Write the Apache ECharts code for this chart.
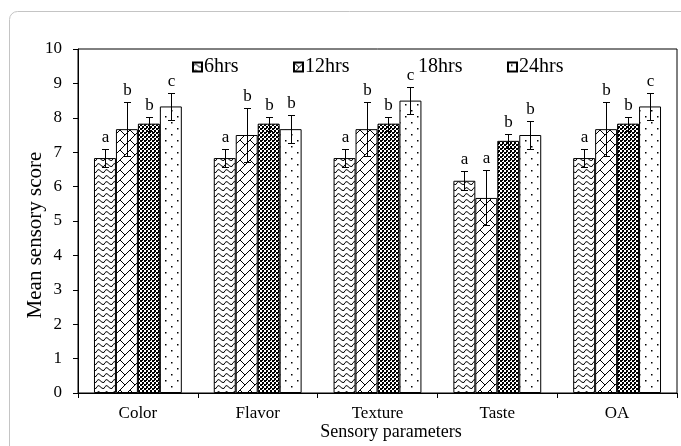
<!DOCTYPE html>
<html>
<head>
<meta charset="utf-8">
<script src="https://cdn.jsdelivr.net/npm/echarts@6/dist/echarts.min.js"></script>
<style>
html,body{margin:0;padding:0;background:#fff;}
#chart{width:681px;height:446px;}
</style>
</head>
<body>
<div id="chart"></div>
<script>
// ---- data ----
const categories = ['Color', 'Flavor', 'Texture', 'Taste', 'OA'];
const seriesNames = ['6hrs', '12hrs', '18hrs', '24hrs'];
const hrs6  = [6.83, 6.83, 6.83, 6.17, 6.83];
const hrs12 = [7.67, 7.50, 7.67, 5.67, 7.67];
const hrs18 = [7.83, 7.83, 7.83, 7.33, 7.83];
const hrs24 = [8.33, 7.67, 8.50, 7.50, 8.33];
const err6  = [0.27, 0.27, 0.27, 0.27, 0.27];
const err12 = [0.78, 0.78, 0.78, 0.80, 0.78];
const err18 = [0.20, 0.20, 0.20, 0.20, 0.20];
const err24 = [0.40, 0.40, 0.40, 0.40, 0.40];
const let6  = ['a', 'a', 'a', 'a', 'a'];
const let12 = ['b', 'b', 'b', 'a', 'b'];
const let18 = ['b', 'b', 'b', 'b', 'b'];
const let24 = ['c', 'b', 'c', 'b', 'c'];
const yTicks = [0, 10, 1];

const values = [hrs6, hrs12, hrs18, hrs24];
const errors = [err6, err12, err18, err24];
const letters = [let6, let12, let18, let24];

// ---- patterns ----
function tile(w, h, draw) {
  const c = document.createElement('canvas');
  c.width = w; c.height = h;
  const g = c.getContext('2d');
  g.fillStyle = '#fff'; g.fillRect(0, 0, w, h);
  draw(g, w, h);
  return { image: c, repeat: 'repeat' };
}
const patWave = tile(8, 6, (g) => {
  g.strokeStyle = '#000'; g.lineWidth = 1;
  g.beginPath();
  g.moveTo(0, 4.5);
  g.quadraticCurveTo(2, 0, 4, 2.5);
  g.quadraticCurveTo(6, 5, 8, 4.5);
  g.stroke();
});
const patBrick = tile(20, 20, (g) => {
  g.strokeStyle = '#000'; g.lineWidth = 1;
  const s = 10, L = 20;
  for (let k = -6; k <= 8; k++) {
    const u = s * k;
    g.beginPath();
    g.moveTo(u + 40, -40); g.lineTo(u - 40, 40);
    g.stroke();
    for (let m = -4; m <= 4; m++) {
      const v = L * m + ((k % 2 + 2) % 2 ? L / 2 : 0);
      const x1 = (u + v) / 2, y1 = (u - v) / 2;
      const x2 = (u + s + v) / 2, y2 = (u + s - v) / 2;
      g.beginPath(); g.moveTo(x1, y1); g.lineTo(x2, y2); g.stroke();
    }
  }
});
const patCheck = tile(4, 4, (g) => {
  g.fillStyle = '#000';
  g.fillRect(0, 0, 2, 2);
  g.fillRect(2, 2, 2, 2);
  g.fillRect(2, 0, 1, 1);
});
const patDots = tile(12, 12, (g) => {
  g.fillStyle = '#000';
  g.fillRect(3, 2, 1.5, 1.5);
  g.fillRect(9, 8, 1.5, 1.5);
});
const patterns = [patWave, patBrick, patCheck, patDots];

const gapFrac = 0.2667;
const FONT = '"Liberation Serif", "Times New Roman", serif';

const barSeries = seriesNames.map((name, i) => ({
  name: name,
  type: 'bar',
  data: values[i],
  barGap: '0%',
  barCategoryGap: (gapFrac * 100) + '%',
  itemStyle: { color: patterns[i], borderColor: '#000', borderWidth: 1 },
  emphasis: { disabled: true },
  z: 2
}));

const errData = [];
seriesNames.forEach((n, si) => {
  categories.forEach((c, ci) => {
    errData.push([ci, values[si][ci], errors[si][ci], si]);
  });
});
const errLetters = [];
seriesNames.forEach((n, si) => { categories.forEach((c, ci) => errLetters.push(letters[si][ci])); });

const errSeries = {
  type: 'custom',
  name: 'err',
  data: errData,
  encode: { x: 0, y: 1 },
  z: 5,
  silent: true,
  renderItem: function (params, api) {
    const ci = api.value(0), v = api.value(1), e = api.value(2), si = api.value(3);
    const c = api.coord([ci, v]);
    const bandW = api.size([1, 0])[0];
    const barW = bandW * (1 - gapFrac) / 4;
    const x = Math.round(c[0] + (si - 1.5) * barW) + 0.5;
    const yT = Math.round(api.coord([ci, v + e])[1]) + 0.5;
    const yB = Math.round(api.coord([ci, v - e])[1]) + 0.5;
    const st = { stroke: '#000', lineWidth: 1 };
    return {
      type: 'group',
      children: [
        { type: 'line', shape: { x1: x, y1: yT, x2: x, y2: yB }, style: st },
        { type: 'line', shape: { x1: x - 3.5, y1: yT, x2: x + 3.5, y2: yT }, style: st },
        { type: 'line', shape: { x1: x - 3.5, y1: yB, x2: x + 3.5, y2: yB }, style: st },
        { type: 'text', x: x, y: yT - 3, style: { text: errLetters[params.dataIndex], fill: '#000', font: '17px ' + FONT, textAlign: 'center', textVerticalAlign: 'bottom' } }
      ]
    };
  }
};

const legendLefts = [192, 293, 406, 507];
const legends = seriesNames.map((n, i) => ({
  data: [i === 2 ? { name: n, itemStyle: { opacity: 0 } } : n],
  left: legendLefts[i], top: 57,
  padding: 0,
  itemWidth: 9, itemHeight: 9,
  icon: 'rect',
  textStyle: { fontFamily: FONT, fontSize: 20, color: '#000', padding: [0, 0, 0, -3] },
  selectedMode: false
}));

const chart = echarts.init(document.getElementById('chart'), null, { renderer: 'canvas' });
chart.setOption({
  animation: false,
  backgroundColor: '#fff',
  graphic: [
    { type: 'rect', shape: { x: 9.5, y: 11.5, width: 720, height: 480, r: 8 }, style: { fill: 'none', stroke: '#c4c4c4', lineWidth: 1 }, z: -10 },
    { type: 'text', x: 391, y: 432, style: { text: 'Sensory parameters', font: '18px ' + FONT, fill: '#000', textAlign: 'center', textVerticalAlign: 'middle' } },
    { type: 'text', x: 35, y: 235, rotation: Math.PI / 2, style: { text: 'Mean sensory score', font: '21px ' + FONT, fill: '#000', textAlign: 'center', textVerticalAlign: 'middle' } }
  ],
  grid: { left: 78, right: 4, top: 49, bottom: 53, show: true, borderColor: '#000', borderWidth: 1, backgroundColor: 'transparent' },
  legend: legends,
  xAxis: {
    type: 'category',
    data: categories,
    axisLine: { lineStyle: { color: '#000', width: 1 } },
    axisTick: { show: true, length: 5, alignWithLabel: false, lineStyle: { color: '#000' } },
    axisLabel: { fontFamily: FONT, fontSize: 17, color: '#000', margin: 12 }
  },
  yAxis: {
    type: 'value',
    min: yTicks[0], max: yTicks[1], interval: yTicks[2],
    axisLine: { show: true, lineStyle: { color: '#000', width: 1 } },
    axisTick: { show: true, length: 5, lineStyle: { color: '#000' } },
    splitLine: { show: false },
    axisLabel: { fontFamily: FONT, fontSize: 17, color: '#000', margin: 16 }
  },
  series: barSeries.concat([errSeries])
});
</script>
</body>
</html>
